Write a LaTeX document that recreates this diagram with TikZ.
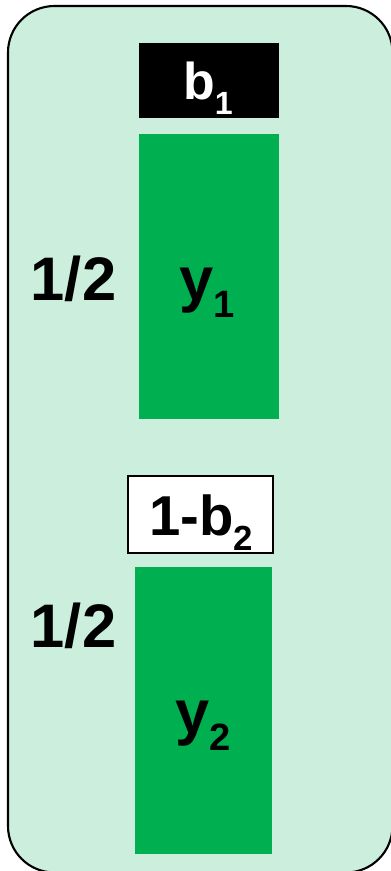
\documentclass[tikz,border=0pt]{standalone}
\usepackage{fontspec}
\setmainfont{Liberation Sans}
\usepackage{tikz}
\definecolor{palegreen}{RGB}{204,238,221}
\definecolor{bargreen}{RGB}{0,176,80}
\newcommand{\lowidx}[1]{\raisebox{-0.28em}{\scalebox{0.62}{#1}}}

\begin{document}
\begin{tikzpicture}[x=0.02cm,y=-0.02cm,
    bar/.style={fill=bargreen,draw=none,inner sep=0pt},
    tag/.style={inner sep=0pt},
    share/.style={font=\fontsize{35}{40}\selectfont\bfseries,anchor=base,inner sep=0pt}]
\useasboundingbox (0,0) rectangle (390,871);
\draw[fill=palegreen,line width=1.2pt,rounded corners=0.93cm] (8,6) rectangle (392.5,872.5);
\node[tag,fill=black,minimum width=2.8cm,minimum height=1.5cm] (b1) at (209,80.5) {};
\node[bar,minimum width=2.8cm,minimum height=5.7cm] (y1) at (209,276.5) {};
\node[tag,fill=white,draw=black,line width=1pt,minimum width=2.9cm,minimum height=1.54cm] (b2) at (200.5,514.5) {};
\node[bar,minimum width=2.74cm,minimum height=5.74cm] (y2) at (203.5,710.5) {};
\node[share,text=white,font=\fontsize{29.5}{34}\selectfont\bfseries] (lb1) at (208,100) {b\lowidx{1}};
\node[share] (ly1) at (207,300) {y\lowidx{1}};
\node[share,font=\fontsize{32}{36}\selectfont\bfseries] (lb2) at (201,535) {1-b\lowidx{2}};
\node[share] (ly2) at (203,733) {y\lowidx{2}};
\node[share] (h1) at (73.5,300) {1/2};
\node[share] (h2) at (73.5,647) {1/2};
\end{tikzpicture}
\end{document}
